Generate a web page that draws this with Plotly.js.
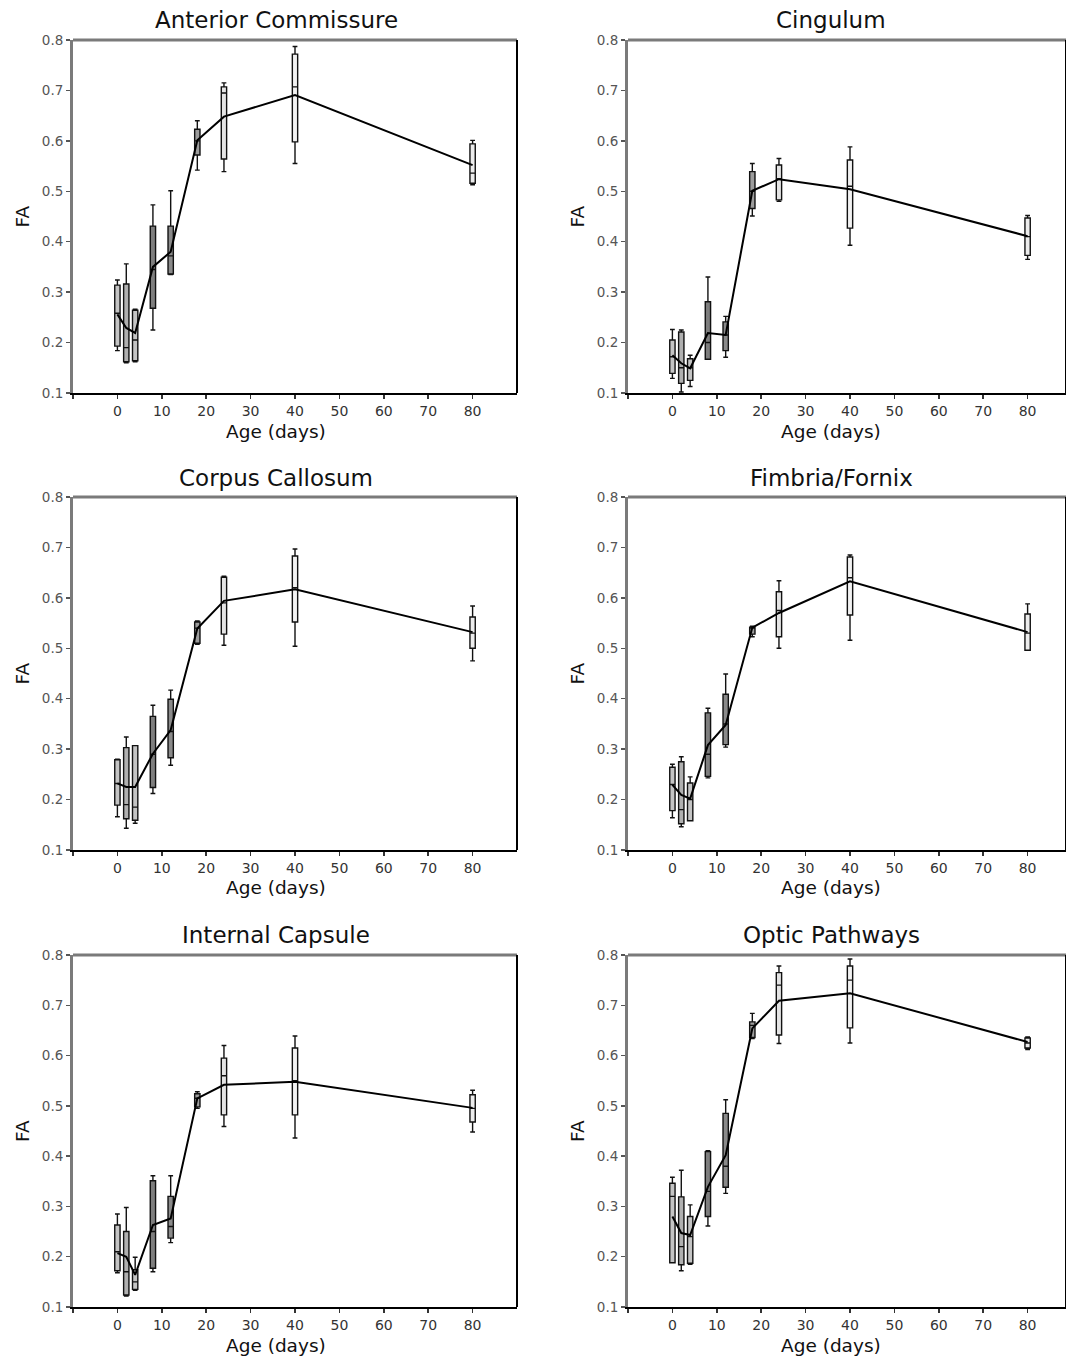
<!DOCTYPE html>
<html>
<head>
<meta charset="utf-8">
<script src="https://cdn.plot.ly/plotly-3.0.1.min.js"></script>
<style>html,body{margin:0;padding:0;background:#fff;}#chart{width:1066px;height:1357px;}</style>
</head>
<body>
<div id="chart"></div>
<script>
// ---- data ----
const ages = [0, 2, 4, 8, 12, 18, 24, 40, 80];
const panelTitles = ["Anterior Commissure", "Cingulum", "Corpus Callosum", "Fimbria/Fornix", "Internal Capsule", "Optic Pathways"];
const xTickVals = [-10, 0, 10, 20, 30, 40, 50, 60, 70, 80];
const xTickText = ["", "0", "10", "20", "30", "40", "50", "60", "70", "80"];

// Anterior Commissure
const acLow  = [0.184, 0.160, 0.162, 0.225, 0.335, 0.542, 0.539, 0.555, 0.513];
const acQ1   = [0.193, 0.162, 0.164, 0.268, 0.336, 0.572, 0.564, 0.598, 0.516];
const acMed  = [0.258, 0.190, 0.205, 0.345, 0.372, 0.600, 0.695, 0.707, 0.536];
const acQ3   = [0.314, 0.316, 0.264, 0.431, 0.431, 0.623, 0.707, 0.772, 0.594];
const acHigh = [0.324, 0.356, 0.266, 0.473, 0.501, 0.640, 0.715, 0.787, 0.601];
const acMean = [0.256, 0.229, 0.219, 0.350, 0.380, 0.601, 0.648, 0.691, 0.552];

// Cingulum
const cgLow  = [0.129, 0.102, 0.113, 0.167, 0.171, 0.451, 0.480, 0.393, 0.365];
const cgQ1   = [0.139, 0.119, 0.125, 0.167, 0.184, 0.466, 0.483, 0.427, 0.373];
const cgMed  = [0.172, 0.150, 0.150, 0.200, 0.215, 0.500, 0.525, 0.510, 0.410];
const cgQ3   = [0.205, 0.221, 0.168, 0.281, 0.241, 0.539, 0.552, 0.562, 0.447];
const cgHigh = [0.226, 0.225, 0.175, 0.330, 0.252, 0.555, 0.565, 0.588, 0.452];
const cgMean = [0.175, 0.159, 0.149, 0.219, 0.215, 0.501, 0.524, 0.504, 0.411];

// Corpus Callosum
const ccLow  = [0.166, 0.143, 0.153, 0.212, 0.268, 0.508, 0.506, 0.504, 0.475];
const ccQ1   = [0.189, 0.162, 0.159, 0.224, 0.283, 0.510, 0.528, 0.552, 0.500];
const ccMed  = [0.232, 0.190, 0.185, 0.290, 0.335, 0.540, 0.590, 0.620, 0.530];
const ccQ3   = [0.279, 0.303, 0.307, 0.365, 0.399, 0.552, 0.641, 0.683, 0.562];
const ccHigh = [0.280, 0.324, 0.307, 0.387, 0.417, 0.554, 0.643, 0.697, 0.584];
const ccMean = [0.232, 0.225, 0.225, 0.291, 0.338, 0.539, 0.594, 0.617, 0.532];

// Fimbria/Fornix
const ffLow  = [0.164, 0.146, 0.158, 0.243, 0.304, 0.523, 0.500, 0.516, 0.496];
const ffQ1   = [0.178, 0.152, 0.158, 0.246, 0.309, 0.528, 0.523, 0.566, 0.496];
const ffMed  = [0.230, 0.180, 0.200, 0.290, 0.350, 0.540, 0.575, 0.640, 0.530];
const ffQ3   = [0.264, 0.275, 0.233, 0.372, 0.409, 0.542, 0.612, 0.681, 0.568];
const ffHigh = [0.270, 0.285, 0.245, 0.381, 0.449, 0.544, 0.634, 0.685, 0.588];
const ffMean = [0.229, 0.209, 0.202, 0.308, 0.348, 0.541, 0.570, 0.633, 0.532];

// Internal Capsule
const icLow  = [0.168, 0.122, 0.133, 0.170, 0.228, 0.495, 0.459, 0.436, 0.448];
const icQ1   = [0.172, 0.124, 0.135, 0.177, 0.237, 0.498, 0.482, 0.482, 0.468];
const icMed  = [0.210, 0.170, 0.150, 0.250, 0.260, 0.515, 0.560, 0.550, 0.495];
const icQ3   = [0.263, 0.250, 0.174, 0.351, 0.320, 0.524, 0.595, 0.615, 0.522];
const icHigh = [0.285, 0.298, 0.199, 0.361, 0.361, 0.528, 0.620, 0.639, 0.531];
const icMean = [0.207, 0.200, 0.164, 0.263, 0.276, 0.515, 0.542, 0.548, 0.496];

// Optic Pathways
const opLow  = [0.188, 0.172, 0.185, 0.261, 0.326, 0.634, 0.624, 0.625, 0.612];
const opQ1   = [0.188, 0.184, 0.187, 0.280, 0.338, 0.636, 0.641, 0.655, 0.615];
const opMed  = [0.320, 0.220, 0.240, 0.330, 0.380, 0.660, 0.740, 0.750, 0.625];
const opQ3   = [0.346, 0.319, 0.280, 0.409, 0.485, 0.667, 0.765, 0.778, 0.635];
const opHigh = [0.358, 0.372, 0.303, 0.411, 0.512, 0.684, 0.778, 0.792, 0.637];
const opMean = [0.280, 0.247, 0.243, 0.339, 0.402, 0.654, 0.709, 0.724, 0.627];

// ---- build ----
const panels = [
  [acLow, acQ1, acMed, acQ3, acHigh, acMean],
  [cgLow, cgQ1, cgMed, cgQ3, cgHigh, cgMean],
  [ccLow, ccQ1, ccMed, ccQ3, ccHigh, ccMean],
  [ffLow, ffQ1, ffMed, ffQ3, ffHigh, ffMean],
  [icLow, icQ1, icMed, icQ3, icHigh, icMean],
  [opLow, opQ1, opMed, opQ3, opHigh, opMean]
];
const boxFills = ['#c4c4c4', '#b0b0b0', '#c4c4c4', '#7e7e7e', '#8a8a8a', '#9c9c9c', '#e4e4e4', '#f2f2f2', '#ececec'];

const W = 1066, H = 1357;
const colX = [[73, 517, 90], [628, 1066, -10 + (1066 - 628) / 4.44]];
const rowY = [[40, 393], [497, 850], [955, 1307]];
const titleCX = [276, 831];
const titleY = [20, 478, 935];
const FONT = 'DejaVu Sans, Verdana, sans-serif';

const traces = [];
const layout = {
  width: W, height: H,
  margin: {l: 0, r: 0, t: 0, b: 0},
  paper_bgcolor: '#ffffff', plot_bgcolor: '#ffffff',
  showlegend: false,
  font: {family: FONT, color: '#222'},
  annotations: [], shapes: []
};

panels.forEach((p, i) => {
  const row = Math.floor(i / 2), col = i % 2;
  const n = i + 1;
  const xa = 'x' + (n === 1 ? '' : n), ya = 'y' + (n === 1 ? '' : n);
  const xk = 'xaxis' + (n === 1 ? '' : n), yk = 'yaxis' + (n === 1 ? '' : n);
  const [low, q1, med, q3, high, mean] = p;
  ages.forEach((a, j) => {
    traces.push({
      type: 'box', x: [a], q1: [q1[j]], median: [med[j]], q3: [q3[j]],
      lowerfence: [low[j]], upperfence: [high[j]],
      width: 1.2, whiskerwidth: 0.9,
      fillcolor: boxFills[j],
      line: {color: '#111', width: 1.4},
      xaxis: xa, yaxis: ya, hoverinfo: 'skip', boxpoints: false
    });
  });
  traces.push({
    type: 'scatter', mode: 'lines', x: ages, y: mean,
    line: {color: '#000', width: 2},
    xaxis: xa, yaxis: ya, hoverinfo: 'skip'
  });
  const cx = colX[col], ry = rowY[row];
  layout[xk] = {
    domain: [cx[0] / W, cx[1] / W], range: [-10, cx[2]],
    anchor: ya, showgrid: false, zeroline: false,
    showline: true, linecolor: '#000', linewidth: 2,
    ticks: 'outside', ticklen: 4, tickcolor: '#333', tickwidth: 1.5,
    tickvals: xTickVals, ticktext: xTickText,
    tickfont: {family: FONT, size: 14, color: '#333'}, fixedrange: true
  };
  layout[yk] = {
    domain: [1 - ry[1] / H, 1 - ry[0] / H], range: [0.1, 0.8],
    anchor: xa, showgrid: false, zeroline: false,
    showline: true, linecolor: '#7a7a7a', linewidth: 3,
    ticks: 'outside', ticklen: 4, tickcolor: '#555', tickwidth: 1.5,
    dtick: 0.1, tick0: 0.1, tickformat: '.1f',
    tickfont: {family: FONT, size: 13.5, color: '#555'}, fixedrange: true
  };
  // top (gray) and right (black) borders
  layout.shapes.push({type: 'line', xref: xa + ' domain', yref: ya + ' domain', x0: 0, x1: 1, y0: 1, y1: 1, line: {color: '#7a7a7a', width: 3}});
  layout.shapes.push({type: 'line', xref: xa + ' domain', yref: ya + ' domain', x0: 1, x1: 1, y0: 0, y1: 1, line: {color: '#000', width: 2}});
  // panel title
  layout.annotations.push({text: panelTitles[i], xref: 'paper', yref: 'paper', x: titleCX[col] / W, y: 1 - titleY[row] / H, xanchor: 'center', yanchor: 'middle', showarrow: false, font: {family: FONT, size: 23, color: '#111'}});
  // x title
  layout.annotations.push({text: 'Age (days)', xref: 'paper', yref: 'paper', x: titleCX[col] / W, y: 1 - (ry[1] + 38) / H, xanchor: 'center', yanchor: 'middle', showarrow: false, font: {family: FONT, size: 18.5, color: '#111'}});
  // y title
  layout.annotations.push({text: 'FA', xref: 'paper', yref: 'paper', x: (cx[0] - 51) / W, y: 1 - ((ry[0] + ry[1]) / 2) / H, xanchor: 'center', yanchor: 'middle', textangle: -90, showarrow: false, font: {family: FONT, size: 18.5, color: '#111'}});
});

Plotly.newPlot('chart', traces, layout, {staticPlot: true, displayModeBar: false});
</script>
</body>
</html>
